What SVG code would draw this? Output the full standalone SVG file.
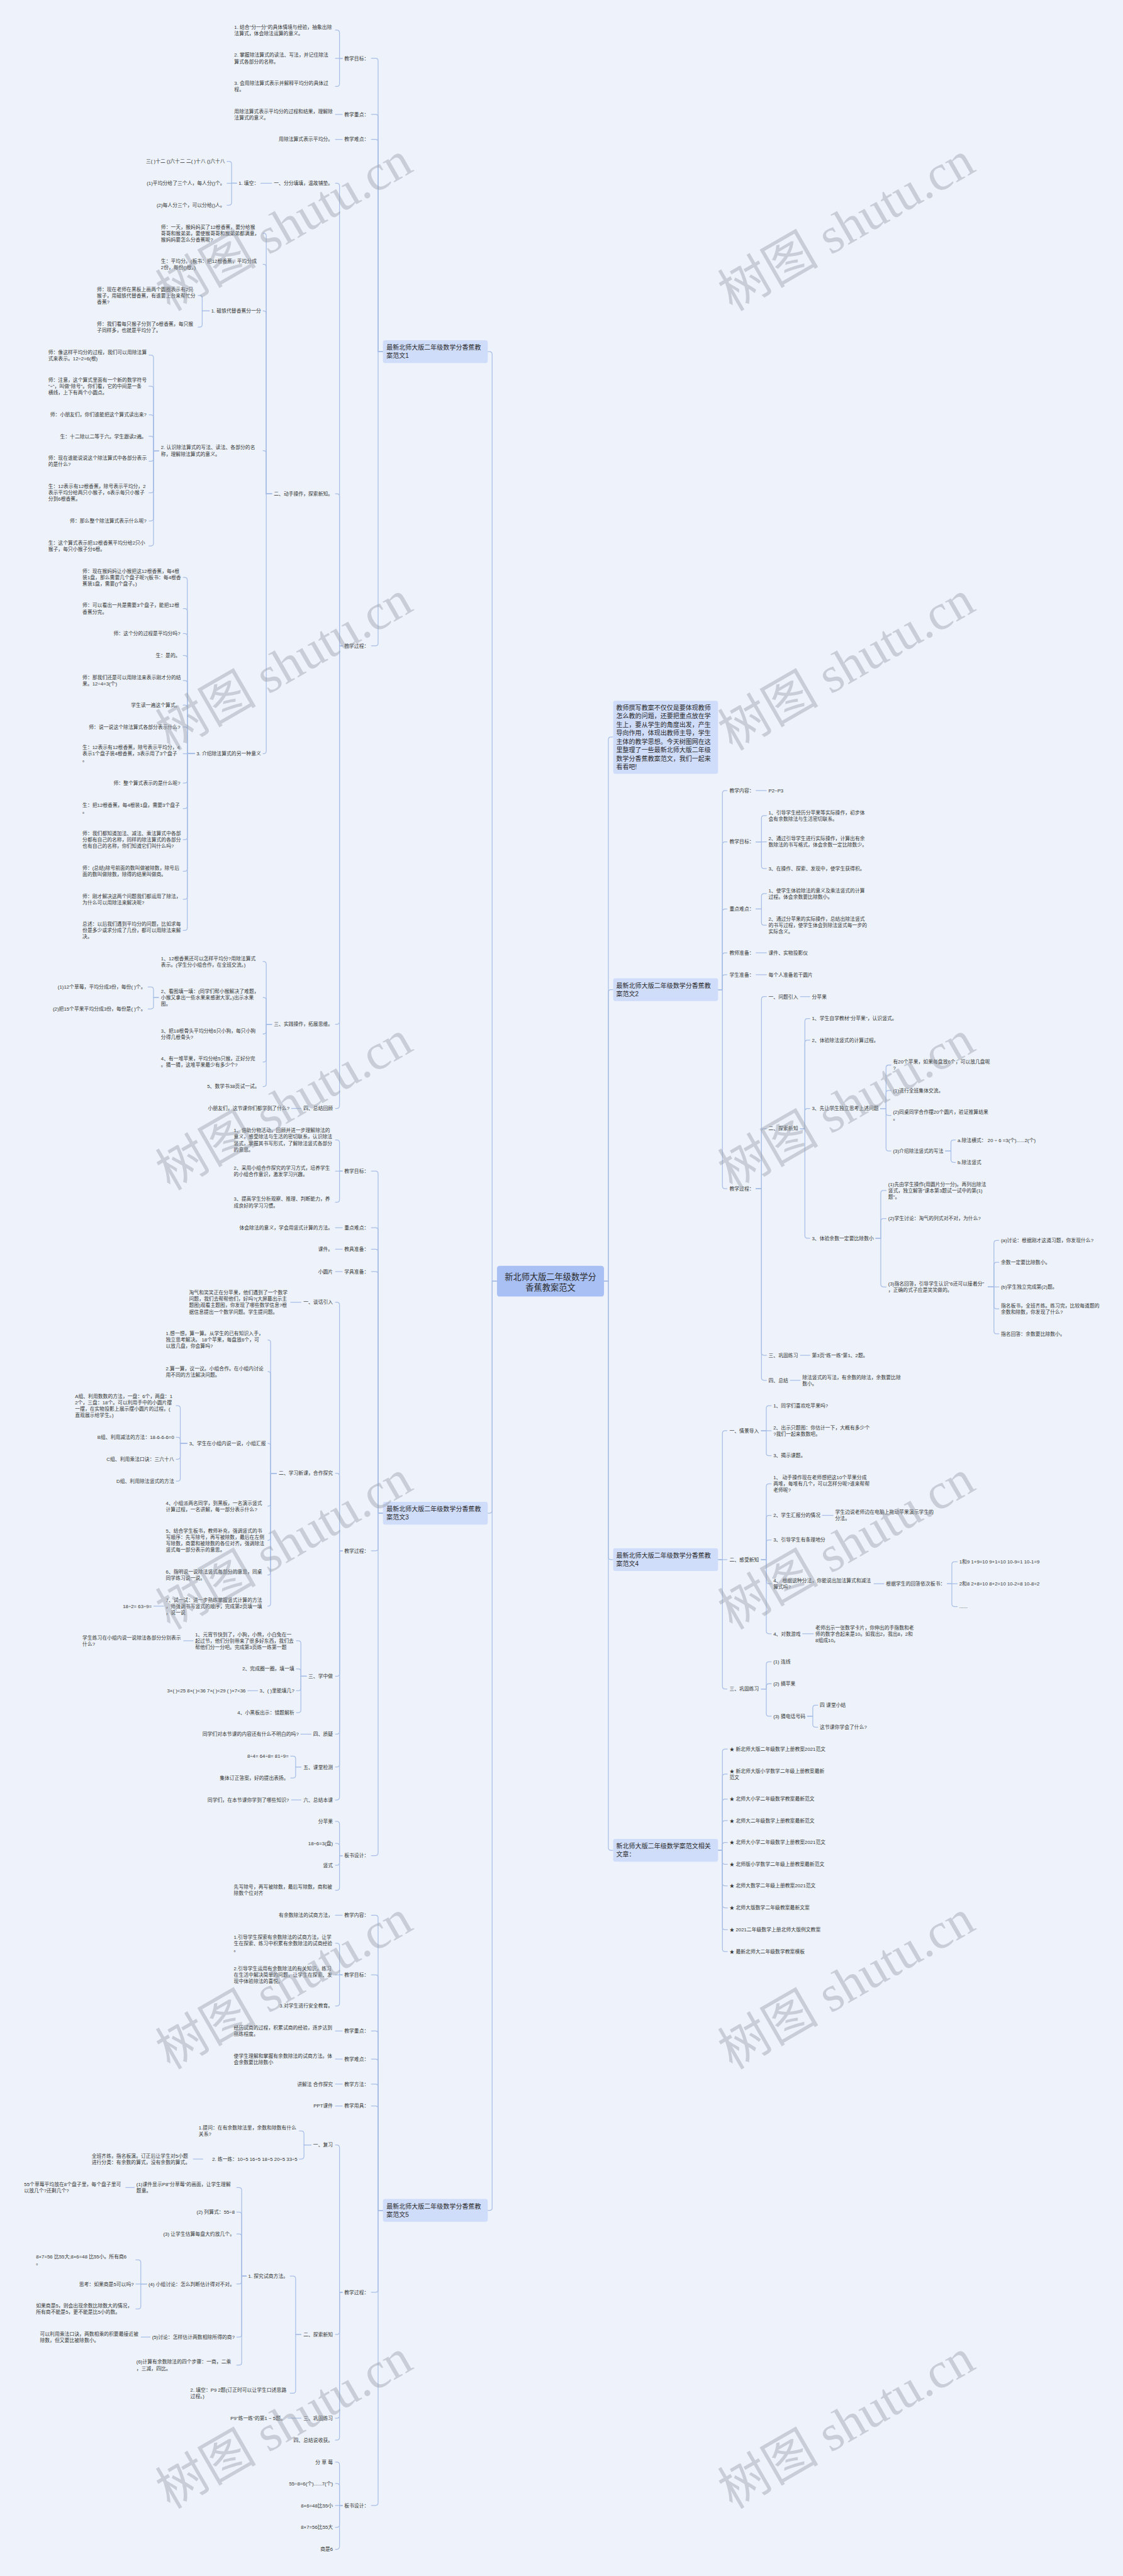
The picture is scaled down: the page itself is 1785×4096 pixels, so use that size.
<svg xmlns="http://www.w3.org/2000/svg" width="1785" height="4096" viewBox="0 0 1785 4096">
<style>
text{font-family:"Liberation Sans","Noto Sans CJK SC",sans-serif;font-size:11.25px;fill:#333}
.e{text-anchor:end}
.bx{font-size:14.4px;fill:#2a2a2a}
.rt{font-size:19px;text-anchor:middle;fill:#2a2a2a}
.c path{fill:none;stroke:#a8bee6;stroke-width:1.8}
.n1{fill:#cfdcfa}
.n0{fill:#a9c0f5}
.wm{font-family:"Liberation Serif","Noto Sans CJK SC",serif;font-size:115px;fill:#9aa0aa;fill-opacity:.45;text-anchor:middle}
</style>
<rect width="1785" height="4096" fill="#eef3fb"/>
<g transform="scale(0.6972)">
<g id="connectors" class="c">
<path d="M1133 2922H1122V808Q1122 802 1116 802H1112"/>
<path d="M1133 2922H1122V3445Q1122 3451 1116 3451H1112"/>
<path d="M1133 2922H1122V5035Q1122 5041 1116 5041H1112"/>
<path d="M1377 2922H1387V1687Q1387 1681 1393 1681H1398"/>
<path d="M1377 2922H1387V2263Q1387 2257 1393 2257H1398"/>
<path d="M1377 2922H1387V3551Q1387 3557 1393 3557H1398"/>
<path d="M1377 2922H1387V4214Q1387 4220 1393 4220H1398"/>
<path d="M873 802H862V139Q862 133 856 133H846"/>
<path d="M873 802H862V267Q862 261 856 261H846"/>
<path d="M873 802H862V324Q862 318 856 318H846"/>
<path d="M873 802H862V1467Q862 1473 856 1473H846"/>
<path d="M781 133H774V74.5Q774 68.5 768 68.5H764"/>
<path d="M781 133H764"/>
<path d="M781 133H774V191Q774 197 768 197H764"/>
<path d="M781 261H764"/>
<path d="M781 318H764"/>
<path d="M781 1473H774V424Q774 418 768 418H764"/>
<path d="M781 1473H774V1132Q774 1126 768 1126H764"/>
<path d="M781 1473H774V2330Q774 2336 768 2336H764"/>
<path d="M781 1473H774V2522Q774 2528 768 2528H764"/>
<path d="M620 418H594"/>
<path d="M540 418H528V374Q528 368 522 368H517"/>
<path d="M540 418H517"/>
<path d="M540 418H528V462Q528 468 522 468H517"/>
<path d="M620 1126H607V538Q607 532 601 532H599"/>
<path d="M620 1126H607V609Q607 603 601 603H599"/>
<path d="M620 1126H607V715Q607 709 601 709H599"/>
<path d="M620 1126H607V1034Q607 1028 601 1028H599"/>
<path d="M620 1126H607V1713Q607 1719 601 1719H599"/>
<path d="M478 709H461V680Q461 674 455 674H451"/>
<path d="M478 709H461V740Q461 746 455 746H451"/>
<path d="M362 1028H350V816Q350 810 344 810H339"/>
<path d="M362 1028H350V887Q350 881 344 881H339"/>
<path d="M362 1028H350V952Q350 946 344 946H339"/>
<path d="M362 1028H350V1001Q350 995 344 995H339"/>
<path d="M362 1028H350V1046Q350 1052 344 1052H339"/>
<path d="M362 1028H350V1118Q350 1124 344 1124H339"/>
<path d="M362 1028H350V1182Q350 1188 344 1188H339"/>
<path d="M362 1028H350V1239Q350 1245 344 1245H339"/>
<path d="M444 1719H427V1323Q427 1317 421 1317H417"/>
<path d="M444 1719H427V1394Q427 1388 421 1388H417"/>
<path d="M444 1719H427V1451Q427 1445 421 1445H417"/>
<path d="M444 1719H427V1501Q427 1495 421 1495H417"/>
<path d="M444 1719H427V1558Q427 1552 421 1552H417"/>
<path d="M444 1719H427V1614Q427 1608 421 1608H417"/>
<path d="M444 1719H427V1664Q427 1658 421 1658H417"/>
<path d="M444 1719H417"/>
<path d="M444 1719H427V1780Q427 1786 421 1786H417"/>
<path d="M444 1719H427V1838Q427 1844 421 1844H417"/>
<path d="M444 1719H427V1909Q427 1915 421 1915H417"/>
<path d="M444 1719H427V1981Q427 1987 421 1987H417"/>
<path d="M444 1719H427V2045Q427 2051 421 2051H417"/>
<path d="M444 1719H427V2116Q427 2122 421 2122H417"/>
<path d="M620 2336H607V2199Q607 2193 601 2193H599"/>
<path d="M620 2336H607V2281Q607 2275 601 2275H599"/>
<path d="M620 2336H607V2352Q607 2358 601 2358H599"/>
<path d="M620 2336H607V2416Q607 2422 601 2422H599"/>
<path d="M620 2336H607V2472Q607 2478 601 2478H599"/>
<path d="M362 2275H350V2257Q350 2251 344 2251H337"/>
<path d="M362 2275H350V2295Q350 2301 344 2301H337"/>
<path d="M687 2528H664"/>
<path d="M873 3451H862V2677Q862 2671 856 2671H846"/>
<path d="M873 3451H862V2806Q862 2800 856 2800H846"/>
<path d="M873 3451H862V2855Q862 2849 856 2849H846"/>
<path d="M873 3451H862V2906Q862 2900 856 2900H846"/>
<path d="M873 3451H862V3531Q862 3537 856 3537H846"/>
<path d="M873 3451H862V4226Q862 4232 856 4232H846"/>
<path d="M781 2671H774V2606Q774 2600 768 2600H764"/>
<path d="M781 2671H764"/>
<path d="M781 2671H774V2736Q774 2742 768 2742H764"/>
<path d="M781 2800H764"/>
<path d="M781 2849H764"/>
<path d="M781 2900H764"/>
<path d="M781 3537H774V2976Q774 2970 768 2970H764"/>
<path d="M781 3537H774V3366Q774 3360 768 3360H764"/>
<path d="M781 3537H774V3817Q774 3823 768 3823H764"/>
<path d="M781 3537H774V3949Q774 3955 768 3955H764"/>
<path d="M781 3537H774V4024Q774 4030 768 4030H764"/>
<path d="M781 3537H774V4099Q774 4105 768 4105H764"/>
<path d="M687 2970H662"/>
<path d="M631 3360H617V3062Q617 3056 611 3056H610"/>
<path d="M631 3360H617V3134Q617 3128 611 3128H610"/>
<path d="M631 3360H617V3298Q617 3292 611 3292H610"/>
<path d="M631 3360H617V3429Q617 3435 611 3435H610"/>
<path d="M631 3360H617V3507Q617 3513 611 3513H610"/>
<path d="M631 3360H617V3586Q617 3592 611 3592H610"/>
<path d="M631 3360H617V3657Q617 3663 611 3663H610"/>
<path d="M427 3292H411V3212Q411 3206 405 3206H401"/>
<path d="M427 3292H411V3284Q411 3278 405 3278H401"/>
<path d="M427 3292H411V3322Q411 3328 405 3328H401"/>
<path d="M427 3292H411V3372Q411 3378 405 3378H401"/>
<path d="M374 3663H350"/>
<path d="M699 3823H686V3748Q686 3742 680 3742H675"/>
<path d="M699 3823H686V3812Q686 3806 680 3806H675"/>
<path d="M699 3823H686V3850Q686 3856 680 3856H675"/>
<path d="M699 3823H686V3900Q686 3906 680 3906H675"/>
<path d="M441 3742H418"/>
<path d="M588 3856H564"/>
<path d="M710 3955H685"/>
<path d="M687 4030H674V4011Q674 4005 668 4005H662"/>
<path d="M687 4030H674V4049Q674 4055 668 4055H662"/>
<path d="M687 4105H664"/>
<path d="M781 4232H774V4160Q774 4154 768 4154H764"/>
<path d="M781 4232H774V4210Q774 4204 768 4204H764"/>
<path d="M781 4232H774V4248Q774 4254 768 4254H764"/>
<path d="M781 4232H774V4305Q774 4311 768 4311H764"/>
<path d="M873 5041H862V4374Q862 4368 856 4368H846"/>
<path d="M873 5041H862V4510Q862 4504 856 4504H846"/>
<path d="M873 5041H862V4638Q862 4632 856 4632H846"/>
<path d="M873 5041H862V4702Q862 4696 856 4696H846"/>
<path d="M873 5041H862V4759Q862 4753 856 4753H846"/>
<path d="M873 5041H862V4809Q862 4803 856 4803H846"/>
<path d="M873 5041H862V5222Q862 5228 856 5228H846"/>
<path d="M873 5041H862V5708Q862 5714 856 5714H846"/>
<path d="M781 4368H764"/>
<path d="M781 4504H774V4438Q774 4432 768 4432H764"/>
<path d="M781 4504H764"/>
<path d="M781 4504H774V4569Q774 4575 768 4575H764"/>
<path d="M781 4632H764"/>
<path d="M781 4696H764"/>
<path d="M781 4753H764"/>
<path d="M781 4803H764"/>
<path d="M781 5228H774V4898Q774 4892 768 4892H764"/>
<path d="M781 5228H774V5318Q774 5324 768 5324H764"/>
<path d="M781 5228H774V5509Q774 5515 768 5515H764"/>
<path d="M781 5228H774V5559Q774 5565 768 5565H764"/>
<path d="M710 4892H693V4866Q693 4860 687 4860H682"/>
<path d="M710 4892H693V4918Q693 4924 687 4924H682"/>
<path d="M463 4924H440"/>
<path d="M687 5324H674V5197Q674 5191 668 5191H661"/>
<path d="M687 5324H674V5452Q674 5458 668 5458H661"/>
<path d="M562 5191H551V4995Q551 4989 545 4989H539"/>
<path d="M562 5191H551V5051Q551 5045 545 5045H539"/>
<path d="M562 5191H551V5101Q551 5095 545 5095H539"/>
<path d="M562 5191H551V5203Q551 5209 545 5209H539"/>
<path d="M562 5191H551V5324Q551 5330 545 5330H539"/>
<path d="M562 5191H551V5388Q551 5394 545 5394H539"/>
<path d="M307 4989H286"/>
<path d="M335 5209H321V5160Q321 5154 315 5154H309"/>
<path d="M335 5209H309"/>
<path d="M335 5209H321V5260Q321 5266 315 5266H309"/>
<path d="M343 5330H321"/>
<path d="M687 5515H656"/>
<path d="M781 5714H774V5621Q774 5615 768 5615H764"/>
<path d="M781 5714H774V5670Q774 5664 768 5664H764"/>
<path d="M781 5714H764"/>
<path d="M781 5714H774V5758Q774 5764 768 5764H764"/>
<path d="M781 5714H774V5808Q774 5814 768 5814H764"/>
<path d="M1637 2257H1647V1809Q1647 1803 1653 1803H1658"/>
<path d="M1637 2257H1647V1926Q1647 1920 1653 1920H1658"/>
<path d="M1637 2257H1647V2079Q1647 2073 1653 2073H1658"/>
<path d="M1637 2257H1647V2179Q1647 2173 1653 2173H1658"/>
<path d="M1637 2257H1647V2229Q1647 2223 1653 2223H1658"/>
<path d="M1637 2257H1647V2705Q1647 2711 1653 2711H1658"/>
<path d="M1723 1803H1748"/>
<path d="M1723 1920H1736V1866Q1736 1860 1742 1860H1748"/>
<path d="M1723 1920H1748"/>
<path d="M1723 1920H1736V1975Q1736 1981 1742 1981H1748"/>
<path d="M1723 2073H1736V2044Q1736 2038 1742 2038H1748"/>
<path d="M1723 2073H1736V2104Q1736 2110 1742 2110H1748"/>
<path d="M1723 2173H1748"/>
<path d="M1723 2223H1748"/>
<path d="M1723 2711H1736V2279Q1736 2273 1742 2273H1748"/>
<path d="M1723 2711H1736V2580Q1736 2574 1742 2574H1748"/>
<path d="M1723 2711H1736V3085Q1736 3091 1742 3091H1748"/>
<path d="M1723 2711H1736V3142Q1736 3148 1742 3148H1748"/>
<path d="M1824 2273H1847"/>
<path d="M1824 2574H1835V2329Q1835 2323 1841 2323H1847"/>
<path d="M1824 2574H1835V2378Q1835 2372 1841 2372H1847"/>
<path d="M1824 2574H1835V2534Q1835 2528 1841 2528H1847"/>
<path d="M1824 2574H1835V2818Q1835 2824 1841 2824H1847"/>
<path d="M2007 2528H2020V2435Q2020 2429 2026 2429H2032"/>
<path d="M2007 2528H2020V2493Q2020 2487 2026 2487H2032"/>
<path d="M2007 2528H2020V2538Q2020 2544 2026 2544H2032"/>
<path d="M2007 2528H2020V2619Q2020 2625 2026 2625H2032"/>
<path d="M2155 2625H2168V2606Q2168 2600 2174 2600H2179"/>
<path d="M2155 2625H2168V2645Q2168 2651 2174 2651H2179"/>
<path d="M1996 2824H2008V2721Q2008 2715 2014 2715H2021"/>
<path d="M1996 2824H2008V2785Q2008 2779 2014 2779H2021"/>
<path d="M1996 2824H2008V2929Q2008 2935 2014 2935H2021"/>
<path d="M2252 2935H2266V2835Q2266 2829 2272 2829H2278"/>
<path d="M2252 2935H2266V2885Q2266 2879 2272 2879H2278"/>
<path d="M2252 2935H2278"/>
<path d="M2252 2935H2266V2979Q2266 2985 2272 2985H2278"/>
<path d="M2252 2935H2266V3036Q2266 3042 2272 3042H2278"/>
<path d="M1824 3091H1847"/>
<path d="M1801 3148H1825"/>
<path d="M1637 3557H1647V3269Q1647 3263 1653 3263H1658"/>
<path d="M1637 3557H1658"/>
<path d="M1637 3557H1647V3846Q1647 3852 1653 3852H1658"/>
<path d="M1735 3263H1747V3212Q1747 3206 1753 3206H1759"/>
<path d="M1735 3263H1759"/>
<path d="M1735 3263H1747V3314Q1747 3320 1753 3320H1759"/>
<path d="M1735 3557H1747V3390Q1747 3384 1753 3384H1759"/>
<path d="M1735 3557H1747V3462Q1747 3456 1753 3456H1759"/>
<path d="M1735 3557H1747V3518Q1747 3512 1753 3512H1759"/>
<path d="M1735 3557H1747V3606Q1747 3612 1753 3612H1759"/>
<path d="M1735 3557H1747V3720Q1747 3726 1753 3726H1759"/>
<path d="M1874 3456H1900"/>
<path d="M1992 3612H2016"/>
<path d="M2159 3612H2170V3568Q2170 3562 2176 3562H2183"/>
<path d="M2159 3612H2183"/>
<path d="M2159 3612H2170V3658Q2170 3664 2176 3664H2183"/>
<path d="M1829 3726H1855"/>
<path d="M1735 3852H1747V3796Q1747 3790 1753 3790H1759"/>
<path d="M1735 3852H1747V3846Q1747 3840 1753 3840H1759"/>
<path d="M1735 3852H1747V3908Q1747 3914 1753 3914H1759"/>
<path d="M1840 3914H1853V3895Q1853 3889 1859 3889H1865"/>
<path d="M1840 3914H1853V3933Q1853 3939 1859 3939H1865"/>
<path d="M1637 4220H1647V3995Q1647 3989 1653 3989H1659"/>
<path d="M1637 4220H1647V4052Q1647 4046 1653 4046H1659"/>
<path d="M1637 4220H1647V4109Q1647 4103 1653 4103H1659"/>
<path d="M1637 4220H1647V4158Q1647 4152 1653 4152H1659"/>
<path d="M1637 4220H1647V4208Q1647 4202 1653 4202H1659"/>
<path d="M1637 4220H1647V4246Q1647 4252 1653 4252H1659"/>
<path d="M1637 4220H1647V4295Q1647 4301 1653 4301H1659"/>
<path d="M1637 4220H1647V4345Q1647 4351 1653 4351H1659"/>
<path d="M1637 4220H1647V4395Q1647 4401 1653 4401H1659"/>
<path d="M1637 4220H1647V4445Q1647 4451 1653 4451H1659"/>
</g>

<g id="root"><rect class="n0" x="1133" y="2887" width="244" height="70" rx="6"/><text class="rt" x="1255" y="2918.5">新北师大版二年级数学分<tspan x="1255" dy="25">香蕉教案范文</tspan></text></g>

<g id="intro"><rect class="n1" x="1398" y="1598" width="239" height="167" rx="5"/><text class="bx" x="1405" y="1619">教师撰写教案不仅仅是要体现教师<tspan x="1405" dy="19.3">怎么教的问题，还要把重点放在学</tspan><tspan x="1405" dy="19.3">生上，要从学生的角度出发，产生</tspan><tspan x="1405" dy="19.3">导向作用，体现出教师主导，学生</tspan><tspan x="1405" dy="19.3">主体的教学思想。今天树图网在这</tspan><tspan x="1405" dy="19.3">里整理了一些最新北师大版二年级</tspan><tspan x="1405" dy="19.3">数学分香蕉教案范文，我们一起来</tspan><tspan x="1405" dy="19.3">看看吧!</tspan></text></g>

<!-- 范文1 -->
<g id="fw1"><rect class="n1" x="873" y="776" width="239" height="52" rx="5"/><text class="bx" x="881" y="797.8">最新北师大版二年级数学分香蕉教<tspan x="881" dy="18.5">案范文1</tspan></text></g>
<g id="a-mb"><text class="e" x="841" y="137">教学目标：</text></g>
<g id="a-mb1"><text x="534" y="65.3">1. 结合"分一分"的具体情境与经验，抽象出除<tspan x="534" dy="14.4">法算式，体会除法运算的意义。</tspan></text></g>
<g id="a-mb2"><text x="534" y="129.8">2. 掌握除法算式的读法、写法，并记住除法<tspan x="534" dy="14.4">算式各部分的名称。</tspan></text></g>
<g id="a-mb3"><text x="534" y="193.8">3. 会用除法算式表示并解释平均分的具体过<tspan x="534" dy="14.4">程。</tspan></text></g>
<g id="a-zd"><text class="e" x="841" y="265">教学重点：</text></g>
<g id="a-zd1"><text x="534" y="257.8">用除法算式表示平均分的过程和结果，理解除<tspan x="534" dy="14.4">法算式的意义。</tspan></text></g>
<g id="a-nd"><text class="e" x="841" y="322">教学难点：</text></g>
<g id="a-nd1"><text class="e" x="759" y="322">用除法算式表示平均分。</text></g>
<g id="a-gc"><text class="e" x="841" y="1477">教学过程：</text></g>
<g id="a-1"><text class="e" x="759" y="422">一、分分填填，温故铺垫。</text></g>
<g id="a-1a"><text class="e" x="590" y="422">1. 填空：</text></g>
<g id="a-1a1"><text class="e" x="513" y="372">三( )十二 ()六十二 二( )十八 ()六十八</text></g>
<g id="a-1a2"><text class="e" x="513" y="422">(1)平均分给了三个人，每人分()个。</text></g>
<g id="a-1a3"><text class="e" x="513" y="472">(2)每人分三个，可以分给()人。</text></g>
<g id="a-2"><text class="e" x="759" y="1130">二、动手操作，探索新知。</text></g>
<g id="a-2a"><text x="367" y="521.6">师：一天，猴妈妈买了12根香蕉，要分给猴<tspan x="367" dy="14.4">哥哥和猴弟弟，要使猴哥哥和猴弟弟都满意，</tspan><tspan x="367" dy="14.4">猴妈妈要怎么分香蕉呢?</tspan></text></g>
<g id="a-2b"><text x="367" y="599.8">生：平均分。(板书：把12根香蕉，平均分成<tspan x="367" dy="14.4">2份，每份()根。)</tspan></text></g>
<g id="a-2c"><text class="e" x="595" y="713">1. 磁铁代替香蕉分一分</text></g>
<g id="a-2c1"><text x="221" y="663.6">师：现在老师在黑板上画两个圆圈表示有2只<tspan x="221" dy="14.4">猴子，用磁铁代替香蕉，有谁要上台来帮忙分</tspan><tspan x="221" dy="14.4">香蕉?</tspan></text></g>
<g id="a-2c2"><text x="221" y="742.8">师：我们看每只猴子分到了6根香蕉，每只猴<tspan x="221" dy="14.4">子同样多，也就是平均分了。</tspan></text></g>
<g id="a-2d"><text x="367" y="1024.8">2. 认识除法算式的写法、读法、各部分的名<tspan x="367" dy="14.4">称，理解除法算式的意义。</tspan></text></g>
<g id="a-2d1"><text x="110" y="806.8">师：像这样平均分的过程，我们可以用除法算<tspan x="110" dy="14.4">式来表示。12÷2=6(根)</tspan></text></g>
<g id="a-2d2"><text x="110" y="870.6">师：注意，这个算式里面有一个新的数学符号<tspan x="110" dy="14.4">"÷"，叫做"除号"。你们看，它的中间是一条</tspan><tspan x="110" dy="14.4">横线，上下有两个小圆点。</tspan></text></g>
<g id="a-2d3"><text class="e" x="334" y="950">师：小朋友们，你们谁能把这个算式读出来?</text></g>
<g id="a-2d4"><text class="e" x="334" y="999">生：十二除以二等于六。学生跟读2遍。</text></g>
<g id="a-2d5"><text x="110" y="1048.8">师：现在谁能说说这个除法算式中各部分表示<tspan x="110" dy="14.4">的是什么?</tspan></text></g>
<g id="a-2d6"><text x="110" y="1113.6">生：12表示有12根香蕉，除号表示平均分，2<tspan x="110" dy="14.4">表示平均分给两只小猴子，6表示每只小猴子</tspan><tspan x="110" dy="14.4">分到6根香蕉。</tspan></text></g>
<g id="a-2d7"><text class="e" x="334" y="1192">师：那么整个除法算式表示什么呢?</text></g>
<g id="a-2d8"><text x="110" y="1241.8">生：这个算式表示把12根香蕉平均分给2只小<tspan x="110" dy="14.4">猴子，每只小猴子分6根。</tspan></text></g>
<g id="a-2e"><text class="e" x="595" y="1723">3. 介绍除法算式的另一种意义</text></g>
<g id="a-2e1"><text x="188" y="1306.6">师：现在猴妈妈让小猴把这12根香蕉，每4根<tspan x="188" dy="14.4">装1盘，那么需要几个盘子呢?(板书：每4根香</tspan><tspan x="188" dy="14.4">蕉装1盘，需要()个盘子。)</tspan></text></g>
<g id="a-2e2"><text x="188" y="1384.8">师：可以看出一共是需要3个盘子，能把12根<tspan x="188" dy="14.4">香蕉分完。</tspan></text></g>
<g id="a-2e3"><text class="e" x="411" y="1449">师：这个分的过程是平均分吗?</text></g>
<g id="a-2e4"><text class="e" x="411" y="1499">生：是的。</text></g>
<g id="a-2e5"><text x="188" y="1548.8">师：那我们还是可以用除法来表示刚才分的结<tspan x="188" dy="14.4">果。12÷4=3(个)</tspan></text></g>
<g id="a-2e6"><text class="e" x="411" y="1612">学生读一遍这个算式。</text></g>
<g id="a-2e7"><text class="e" x="411" y="1662">师：说一说这个除法算式各部分表示什么?</text></g>
<g id="a-2e8"><text x="188" y="1708.6">生：12表示有12根香蕉，除号表示平均分，4<tspan x="188" dy="14.4">表示1个盘子装4根香蕉，3表示用了3个盘子</tspan><tspan x="188" dy="14.4">。</tspan></text></g>
<g id="a-2e9"><text class="e" x="411" y="1790">师：整个算式表示的是什么呢?</text></g>
<g id="a-2e10"><text x="188" y="1840.8">生：把12根香蕉，每4根装1盘，需要3个盘子<tspan x="188" dy="14.4">。</tspan></text></g>
<g id="a-2e11"><text x="188" y="1904.6">师：我们都知道加法、减法、乘法算式中各部<tspan x="188" dy="14.4">分都有自己的名称，同样的除法算式的各部分</tspan><tspan x="188" dy="14.4">也有自己的名称，你们知道它们叫什么吗?</tspan></text></g>
<g id="a-2e12"><text x="188" y="1983.8">师：(总结)除号前面的数叫做被除数，除号后<tspan x="188" dy="14.4">面的数叫做除数，除得的结果叫做商。</tspan></text></g>
<g id="a-2e13"><text x="188" y="2047.8">师：刚才解决这两个问题我们都运用了除法，<tspan x="188" dy="14.4">为什么可以用除法来解决呢?</tspan></text></g>
<g id="a-2e14"><text x="188" y="2111.6">总述：以后我们遇到平均分的问题，比如求每<tspan x="188" dy="14.4">份是多少或求分成了几份，都可以用除法来解</tspan><tspan x="188" dy="14.4">决。</tspan></text></g>
<g id="a-3"><text class="e" x="759" y="2340">三、实践操作，拓展思维。</text></g>
<g id="a-3a"><text x="367" y="2189.8">1、12根香蕉还可以怎样平均分?用除法算式<tspan x="367" dy="14.4">表示。(学生分小组合作，在全班交流。)</tspan></text></g>
<g id="a-3b"><text x="367" y="2264.6">2、看图填一填：(同学们帮小猴解决了难题，<tspan x="367" dy="14.4">小猴又拿出一些水果来感谢大家。)出示水果</tspan><tspan x="367" dy="14.4">图。</tspan></text></g>
<g id="a-3b1"><text class="e" x="332" y="2255">(1)12个草莓，平均分成3份，每份( )个。</text></g>
<g id="a-3b2"><text class="e" x="332" y="2305">(2)把15个苹果平均分成3份，每份是( )个。</text></g>
<g id="a-3c"><text x="367" y="2354.8">3、把18根骨头平均分给6只小狗，每只小狗<tspan x="367" dy="14.4">分得几根骨头?</tspan></text></g>
<g id="a-3d"><text x="367" y="2418.8">4、有一堆苹果，平均分给5只猴，正好分完<tspan x="367" dy="14.4">。猜一猜，这堆苹果最少有多少个?</tspan></text></g>
<g id="a-3e"><text class="e" x="592" y="2482">5、数学书38页试一试。</text></g>
<g id="a-4"><text class="e" x="759" y="2532">四、总结回顾</text></g>
<g id="a-4a"><text class="e" x="660" y="2532">小朋友们，这节课你们都学到了什么?</text></g>

<!-- 范文3 -->
<g id="fw3"><rect class="n1" x="873" y="3425" width="239" height="52" rx="5"/><text class="bx" x="881" y="3446.8">最新北师大版二年级数学分香蕉教<tspan x="881" dy="18.5">案范文3</tspan></text></g>
<g id="b-mb"><text class="e" x="841" y="2675">教学目标：</text></g>
<g id="b-mb1"><text x="533" y="2582.4">1、借助分物活动，回顾并进一步理解除法的<tspan x="533" dy="14.4">意义，感受除法与生活的密切联系，认识除法</tspan><tspan x="533" dy="14.4">竖式，掌握其书写形式，了解除法竖式各部分</tspan><tspan x="533" dy="14.4">的意思。</tspan></text></g>
<g id="b-mb2"><text x="533" y="2667.8">2、采用小组合作探究的学习方式，培养学生<tspan x="533" dy="14.4">的小组合作意识，激发学习兴趣。</tspan></text></g>
<g id="b-mb3"><text x="533" y="2738.8">3、提高学生分析观察、推理、判断能力，养<tspan x="533" dy="14.4">成良好的学习习惯。</tspan></text></g>
<g id="b-zd"><text class="e" x="841" y="2804">重点难点：</text></g>
<g id="b-zd1"><text class="e" x="759" y="2804">体会除法的意义，学会用竖式计算的方法。</text></g>
<g id="b-jj"><text class="e" x="841" y="2853">教具准备：</text></g>
<g id="b-jj1"><text class="e" x="759" y="2853">课件。</text></g>
<g id="b-xj"><text class="e" x="841" y="2904">学具准备：</text></g>
<g id="b-xj1"><text class="e" x="759" y="2904">小圆片</text></g>
<g id="b-gc"><text class="e" x="841" y="3541">教学过程：</text></g>
<g id="b-1"><text class="e" x="759" y="2974">一、谈话引入</text></g>
<g id="b-1a"><text x="431" y="2952.4">淘气和笑笑正在分苹果，他们遇到了一个数学<tspan x="431" dy="14.4">问题，我们去帮帮他们，好吗?(大屏幕出示主</tspan><tspan x="431" dy="14.4">题图)观看主题图，你发现了哪些数学信息?根</tspan><tspan x="431" dy="14.4">据信息提出一个数学问题。学生提问题。</tspan></text></g>
<g id="b-2"><text class="e" x="759" y="3364">二、学习新课，合作探究</text></g>
<g id="b-2a"><text x="378" y="3045.6">1.想一想，算一算。从学生的已有知识入手，<tspan x="378" dy="14.4">独立思考解决。 18个苹果，每盘放6个，可</tspan><tspan x="378" dy="14.4">以放几盘，你会算吗?</tspan></text></g>
<g id="b-2b"><text x="378" y="3124.8">2.算一算，议一议。小组合作。在小组内讨论<tspan x="378" dy="14.4">用不同的方法解决问题。</tspan></text></g>
<g id="b-2c"><text class="e" x="606" y="3296">3、学生在小组内说一说，小组汇报</text></g>
<g id="b-2c1"><text x="171" y="3188.4">A组、利用数数的方法，一盘：6个，两盘：1<tspan x="171" dy="14.4">2个，三盘：18个。可以利用手中的小圆片摆</tspan><tspan x="171" dy="14.4">一摆，在实物投影上展示摆小圆片的过程。(</tspan><tspan x="171" dy="14.4">直观展示给学生。)</tspan></text></g>
<g id="b-2c2"><text class="e" x="397" y="3282">B组、利用减法的方法：18-6-6-6=0</text></g>
<g id="b-2c3"><text class="e" x="397" y="3332">C组、利用乘法口诀：三六十八</text></g>
<g id="b-2c4"><text class="e" x="397" y="3382">D组、利用除法竖式的方法</text></g>
<g id="b-2d"><text x="378" y="3431.8">4、小组派两名同学，到黑板，一名演示竖式<tspan x="378" dy="14.4">计算过程，一名讲解，每一部分表示什么?</tspan></text></g>
<g id="b-2e"><text x="378" y="3495.4">5、结合学生板书，教师补充，强调竖式的书<tspan x="378" dy="14.4">写顺序：先写除号，再写被除数，最后在左侧</tspan><tspan x="378" dy="14.4">写除数，商要和被除数的各位对齐。强调除法</tspan><tspan x="378" dy="14.4">竖式每一部分表示的意思。</tspan></text></g>
<g id="b-2f"><text x="378" y="3588.8">6、指明说一说除法竖式每部分的意思，同桌<tspan x="378" dy="14.4">同学练习说一说。</tspan></text></g>
<g id="b-2g"><text x="378" y="3652.6">7、试一试：进一步熟练掌握竖式计算的方法<tspan x="378" dy="14.4">，师强调书写竖式的顺序，完成第2页填一填</tspan><tspan x="378" dy="14.4">，说一说</tspan></text></g>
<g id="b-2g1"><text class="e" x="346" y="3667">18÷2= 63÷9=</text></g>
<g id="b-3"><text class="e" x="759" y="3827">三、学中做</text></g>
<g id="b-3a"><text x="445" y="3731.6">1、元宵节快到了，小狗，小熊，小白兔在一<tspan x="445" dy="14.4">起过节，他们分别带来了很多好东西，我们去</tspan><tspan x="445" dy="14.4">帮他们分一分吧。完成第3页练一练第一题</tspan></text></g>
<g id="b-3a1"><text x="188" y="3738.8">学生练习在小组内说一说除法各部分分别表示<tspan x="188" dy="14.4">什么?</tspan></text></g>
<g id="b-3b"><text class="e" x="671" y="3810">2、完成圈一圈，填一填</text></g>
<g id="b-3c"><text class="e" x="671" y="3860">3、( )里能填几?</text></g>
<g id="b-3c1"><text class="e" x="560" y="3860">3×( )&lt;25 8×( )&lt;36 7×( )&lt;29 ( )×7&lt;36</text></g>
<g id="b-3d"><text class="e" x="671" y="3910">4、小黑板出示：错题解析</text></g>
<g id="b-4"><text class="e" x="759" y="3959">四、质疑</text></g>
<g id="b-4a"><text class="e" x="681" y="3959">同学们对本节课的内容还有什么不明白的吗?</text></g>
<g id="b-5"><text class="e" x="759" y="4034">五、课堂检测</text></g>
<g id="b-5a"><text class="e" x="658" y="4009">8÷4= 64÷8= 81÷9=</text></g>
<g id="b-5b"><text class="e" x="658" y="4059">集体订正答案，好的提出表扬。</text></g>
<g id="b-6"><text class="e" x="759" y="4109">六、总结本课</text></g>
<g id="b-6a"><text class="e" x="659" y="4109">同学们，在本节课你学到了哪些知识?</text></g>
<g id="b-bs"><text class="e" x="841" y="4236">板书设计：</text></g>
<g id="b-bs1"><text class="e" x="759" y="4158">分苹果</text></g>
<g id="b-bs2"><text class="e" x="759" y="4208">18÷6=3(盘)</text></g>
<g id="b-bs3"><text class="e" x="759" y="4258">竖式</text></g>
<g id="b-bs4"><text x="533" y="4307.8">先写除号，再写被除数，最后写除数，商和被<tspan x="533" dy="14.4">除数个位对齐</tspan></text></g>

<!-- 范文5 -->
<g id="fw5"><rect class="n1" x="873" y="5015" width="239" height="52" rx="5"/><text class="bx" x="881" y="5036.8">最新北师大版二年级数学分香蕉教<tspan x="881" dy="18.5">案范文5</tspan></text></g>
<g id="c-nr"><text class="e" x="841" y="4372">教学内容：</text></g>
<g id="c-nr1"><text class="e" x="759" y="4372">有余数除法的试商方法，</text></g>
<g id="c-mb"><text class="e" x="841" y="4508">教学目标：</text></g>
<g id="c-mb1"><text x="533" y="4421.6">1.引导学生探索有余数除法的试商方法，让学<tspan x="533" dy="14.4">生在探索、练习中积累有余数除法的试商经验</tspan><tspan x="533" dy="14.4">。</tspan></text></g>
<g id="c-mb2"><text x="533" y="4493.6">2.引导学生运用有余数除法的有关知识，练习<tspan x="533" dy="14.4">在生活中解决简单的问题，让学生在探索、发</tspan><tspan x="533" dy="14.4">现中体验除法的喜悦。</tspan></text></g>
<g id="c-mb3"><text class="e" x="759" y="4579">3.对学生进行安全教育。</text></g>
<g id="c-zd"><text class="e" x="841" y="4636">教学重点：</text></g>
<g id="c-zd1"><text x="533" y="4628.8">经历试商的过程，积累试商的经验，逐步达到<tspan x="533" dy="14.4">熟练程度。</tspan></text></g>
<g id="c-nd"><text class="e" x="841" y="4700">教学难点：</text></g>
<g id="c-nd1"><text x="533" y="4692.8">使学生理解和掌握有余数除法的试商方法。体<tspan x="533" dy="14.4">会余数要比除数小</tspan></text></g>
<g id="c-ff"><text class="e" x="841" y="4757">教学方法：</text></g>
<g id="c-ff1"><text class="e" x="759" y="4757">讲解法 合作探究</text></g>
<g id="c-yj"><text class="e" x="841" y="4807">教学用具：</text></g>
<g id="c-yj1"><text class="e" x="759" y="4807">PPT课件</text></g>
<g id="c-gc"><text class="e" x="841" y="5232">教学过程：</text></g>
<g id="c-1"><text class="e" x="759" y="4896">一、复习</text></g>
<g id="c-1a"><text x="453" y="4856.8">1.提问：在有余数除法里，余数和除数有什么<tspan x="453" dy="14.4">关系?</tspan></text></g>
<g id="c-1b"><text class="e" x="678" y="4928">2. 练一练：10÷5 16÷5 18÷5 20÷5 33÷5</text></g>
<g id="c-1b1"><text x="209" y="4920.8">全班齐练，指名板演。订正后让学生对5小题<tspan x="209" dy="14.4">进行分类：有余数的算式，没有余数的算式。</tspan></text></g>
<g id="c-2"><text class="e" x="759" y="5328">二、探索新知</text></g>
<g id="c-2a"><text class="e" x="657" y="5195">1. 探究试商方法。</text></g>
<g id="c-2a1"><text x="311" y="4985.8">(1)课件显示P8"分草莓"的画面，让学生理解<tspan x="311" dy="14.4">题意。</tspan></text></g>
<g id="c-2a1a"><text x="55" y="4985.8">55个草莓平均放在8个盘子里，每个盘子里可<tspan x="55" dy="14.4">以放几个?还剩几个?</tspan></text></g>
<g id="c-2a2"><text class="e" x="535" y="5049">(2) 列算式：55÷8</text></g>
<g id="c-2a3"><text class="e" x="535" y="5099">(3) 让学生估算每盘大约放几个。</text></g>
<g id="c-2a4"><text class="e" x="535" y="5213">(4) 小组讨论：怎么判断估计得对不对。</text></g>
<g id="c-2a4a"><text x="82" y="5150.8">8×7=56 比55大;8×6=48 比55小。所有商6<tspan x="82" dy="14.4">。</tspan></text></g>
<g id="c-2a4b"><text class="e" x="305" y="5213">思考：如果商是5可以吗?</text></g>
<g id="c-2a4c"><text x="82" y="5262.8">如果商是5，则会出现余数比除数大的情况，<tspan x="82" dy="14.4">所有商不能是5，更不能是比5小的数。</tspan></text></g>
<g id="c-2a5"><text class="e" x="535" y="5334">(5)讨论：怎样估计两数相除所得的商?</text></g>
<g id="c-2a5a"><text x="91" y="5326.8">可以利用乘法口诀，两数相乘的积要最接近被<tspan x="91" dy="14.4">除数，但又要比被除数小。</tspan></text></g>
<g id="c-2a6"><text x="311" y="5390.8">(6)计算有余数除法的四个步骤：一商，二乘<tspan x="311" dy="14.4">，三减，四比。</tspan></text></g>
<g id="c-2b"><text x="434" y="5454.8">2. 填空：P9 2题(订正时可以让学生口述思路<tspan x="434" dy="14.4">过程。)</tspan></text></g>
<g id="c-3"><text class="e" x="759" y="5519">三、巩固练习</text></g>
<g id="c-3a"><text class="e" x="651" y="5519">P9"练一练"的第1 ~ 5题。</text></g>
<g id="c-4"><text class="e" x="759" y="5569">四、总结说收获。</text></g>
<g id="c-bs"><text class="e" x="841" y="5718">板书设计：</text></g>
<g id="c-bs1"><text class="e" x="759" y="5619">分 草 莓</text></g>
<g id="c-bs2"><text class="e" x="759" y="5668">55÷8=6(个)......7(个)</text></g>
<g id="c-bs3"><text class="e" x="759" y="5718">8×6=48比55小</text></g>
<g id="c-bs4"><text class="e" x="759" y="5768">8×7=56比55大</text></g>
<g id="c-bs5"><text class="e" x="759" y="5818">商是6</text></g>

<!-- 范文2 -->
<g id="fw2"><rect class="n1" x="1398" y="2231" width="239" height="52" rx="5"/><text class="bx" x="1405" y="2252.8">最新北师大版二年级数学分香蕉教<tspan x="1405" dy="18.5">案范文2</tspan></text></g>
<g id="d-nr"><text x="1663" y="1807">教学内容：</text></g>
<g id="d-nr1"><text x="1752" y="1807">P2~P3</text></g>
<g id="d-mb"><text x="1663" y="1924">教学目标：</text></g>
<g id="d-mb1"><text x="1752" y="1856.8">1、引导学生经历分苹果等实际操作，初步体<tspan x="1752" dy="14.4">会有余数除法与生活密切联系。</tspan></text></g>
<g id="d-mb2"><text x="1752" y="1916.8">2、通过引导学生进行实际操作，计算出有余<tspan x="1752" dy="14.4">数除法的书写格式，体会余数一定比除数少。</tspan></text></g>
<g id="d-mb3"><text x="1752" y="1985">3、在操作、探索、发现中，使学生获得积。</text></g>
<g id="d-zd"><text x="1663" y="2077">重点难点：</text></g>
<g id="d-zd1"><text x="1752" y="2034.8">1、使学生体验除法的意义及乘法竖式的计算<tspan x="1752" dy="14.4">过程。体会余数要比除数小。</tspan></text></g>
<g id="d-zd2"><text x="1752" y="2099.6">2、通过分苹果的实际操作，总结出除法竖式<tspan x="1752" dy="14.4">的书写过程，使学生体会到除法竖式每一步的</tspan><tspan x="1752" dy="14.4">实际含义。</tspan></text></g>
<g id="d-js"><text x="1663" y="2177">教师准备：</text></g>
<g id="d-js1"><text x="1752" y="2177">课件、实物投影仪</text></g>
<g id="d-xs"><text x="1663" y="2227">学生准备：</text></g>
<g id="d-xs1"><text x="1752" y="2227">每个人准备若干圆片</text></g>
<g id="d-gc"><text x="1663" y="2715">教学过程：</text></g>
<g id="d-1"><text x="1752" y="2277">一、问题引入</text></g>
<g id="d-1a"><text x="1851" y="2277">分苹果</text></g>
<g id="d-2"><text x="1752" y="2578">二、探索新知</text></g>
<g id="d-2a"><text x="1851" y="2327">1、学生自学教材"分苹果"，认识竖式。</text></g>
<g id="d-2b"><text x="1851" y="2376">2、体验除法竖式的计算过程。</text></g>
<g id="d-2c"><text x="1851" y="2532">3、先让学生独立思考上述问题</text></g>
<g id="d-2c1"><text x="2036" y="2425.8">有20个苹果，如果每盘放6个，可以放几盘呢<tspan x="2036" dy="14.4">?</tspan></text></g>
<g id="d-2c2"><text x="2036" y="2491">(1)进行全班集体交流。</text></g>
<g id="d-2c3"><text x="2036" y="2540.8">(2)同桌同学合作摆20个圆片，验证推算结果<tspan x="2036" dy="14.4">。</tspan></text></g>
<g id="d-2c4"><text x="2036" y="2629">(3)介绍除法竖式的写法</text></g>
<g id="d-2c4a"><text x="2183" y="2604">a.除法横式： 20 ÷ 6 =3(个)......2(个)</text></g>
<g id="d-2c4b"><text x="2183" y="2655">b.除法竖式</text></g>
<g id="d-2d"><text x="1851" y="2828">3、体验余数一定要比除数小</text></g>
<g id="d-2d1"><text x="2025" y="2704.6">(1)先由学生操作(用圆片分一分)。再列出除法<tspan x="2025" dy="14.4">竖式，独立解答"课本第3题试一试中的第(1)</tspan><tspan x="2025" dy="14.4">题"。</tspan></text></g>
<g id="d-2d2"><text x="2025" y="2783">(2)学生讨论：淘气的列式对不对，为什么?</text></g>
<g id="d-2d3"><text x="2025" y="2931.8">(3)指名回答，引导学生认识"6还可以接着分"<tspan x="2025" dy="14.4">，正确的式子应是笑笑做的。</tspan></text></g>
<g id="d-2d3a"><text x="2282" y="2833">(a)讨论：根据刚才这道习题，你发现什么?</text></g>
<g id="d-2d3b"><text x="2282" y="2883">余数一定要比除数小。</text></g>
<g id="d-2d3c"><text x="2282" y="2939">(b)学生独立完成第(2)题。</text></g>
<g id="d-2d3d"><text x="2282" y="2981.8">指名板书，全班齐练。练习完，比较每道题的<tspan x="2282" dy="14.4">余数和除数，你发现了什么?</tspan></text></g>
<g id="d-2d3e"><text x="2282" y="3046">指名回答：余数要比除数小。</text></g>
<g id="d-3"><text x="1752" y="3095">三、巩固练习</text></g>
<g id="d-3a"><text x="1851" y="3095">第3页"练一练"第1、2题。</text></g>
<g id="d-4"><text x="1752" y="3152">四、总结</text></g>
<g id="d-4a"><text x="1829" y="3144.8">除法竖式的写法，有余数的除法，余数要比除<tspan x="1829" dy="14.4">数小。</tspan></text></g>

<!-- 范文4 -->
<g id="fw4"><rect class="n1" x="1398" y="3531" width="239" height="52" rx="5"/><text class="bx" x="1405" y="3552.8">最新北师大版二年级数学分香蕉教<tspan x="1405" dy="18.5">案范文4</tspan></text></g>
<g id="e-1"><text x="1663" y="3267">一、情景导入</text></g>
<g id="e-1a"><text x="1763" y="3210">1、同学们喜欢吃苹果吗?</text></g>
<g id="e-1b"><text x="1763" y="3259.8">2、出示只题图：你估计一下，大概有多少个<tspan x="1763" dy="14.4">?我们一起来数数吧。</tspan></text></g>
<g id="e-1c"><text x="1763" y="3324">3、揭示课题。</text></g>
<g id="e-2"><text x="1663" y="3561">二、感受新知</text></g>
<g id="e-2a"><text x="1763" y="3373.6">1、 动手操作现在老师想把这10个苹果分成<tspan x="1763" dy="14.4">两堆，每堆有几个，可以怎样分呢?谁来帮帮</tspan><tspan x="1763" dy="14.4">老师呢?</tspan></text></g>
<g id="e-2b"><text x="1763" y="3460">2、学生汇报分的情况</text></g>
<g id="e-2b1"><text x="1904" y="3452.8">学生边说老师边在电脑上拖动苹果演示学生的<tspan x="1904" dy="14.4">分法。</tspan></text></g>
<g id="e-2c"><text x="1763" y="3516">3、引导学生有条理地分</text></g>
<g id="e-2d"><text x="1763" y="3608.8">4、 根据这种分法，你能说出加法算式和减法<tspan x="1763" dy="14.4">算式吗?</tspan></text></g>
<g id="e-2d1"><text x="2020" y="3616">根据学生的回答依次板书：</text></g>
<g id="e-2d1a"><text x="2187" y="3566">1和9 1+9=10 9+1=10 10-9=1 10-1=9</text></g>
<g id="e-2d1b"><text x="2187" y="3616">2和8 2+8=10 8+2=10 10-2=8 10-8=2</text></g>
<g id="e-2d1c"><text x="2187" y="3668">......</text></g>
<g id="e-2e"><text x="1763" y="3730">4、对数游戏</text></g>
<g id="e-2e1"><text x="1859" y="3715.6">老师出示一张数学卡片，你伸出的手指数和老<tspan x="1859" dy="14.4">师的数字合起来是10。如我出2，我出8，2和</tspan><tspan x="1859" dy="14.4">8组成10。</tspan></text></g>
<g id="e-3"><text x="1663" y="3856">三、巩固练习</text></g>
<g id="e-3a"><text x="1763" y="3794">(1) 连线</text></g>
<g id="e-3b"><text x="1763" y="3844">(2) 摘苹果</text></g>
<g id="e-3c"><text x="1763" y="3918">(3) 猜电话号码</text></g>
<g id="e-3c1"><text x="1869" y="3893">四 课堂小结</text></g>
<g id="e-3c2"><text x="1869" y="3943">这节课你学会了什么?</text></g>

<!-- 相关文章 -->
<g id="rel"><rect class="n1" x="1398" y="4194" width="239" height="52" rx="5"/><text class="bx" x="1405" y="4215.8">新北师大版二年级数学案范文相关<tspan x="1405" dy="18.5">文章：</tspan></text></g>
<g id="rel1"><text x="1663" y="3993">★ 新北师大版二年级数学上册教案2021范文</text></g>
<g id="rel2"><text x="1663" y="4042.8">★ 新北师大版小学数学二年级上册教案最新<tspan x="1663" dy="14.4">范文</tspan></text></g>
<g id="rel3"><text x="1663" y="4107">★ 北师大小学二年级数学教案最新范文</text></g>
<g id="rel4"><text x="1663" y="4156">★ 北师大二年级数学上册教案最新范文</text></g>
<g id="rel5"><text x="1663" y="4206">★ 北师大小学二年级数学上册教案2021范文</text></g>
<g id="rel6"><text x="1663" y="4256">★ 北师版小学数学二年级上册教案最新范文</text></g>
<g id="rel7"><text x="1663" y="4305">★ 北师大数学二年级上册教案2021范文</text></g>
<g id="rel8"><text x="1663" y="4355">★ 北师大版数学二年级教案最新文案</text></g>
<g id="rel9"><text x="1663" y="4405">★ 2021二年级数学上册北师大版例文教案</text></g>
<g id="rel10"><text x="1663" y="4455">★ 最新北师大二年级数学教案模板</text></g>

<g id="watermark">
<text class="wm" transform="translate(648 517) rotate(-30)" y="38">树图 shutu.cn</text>
<text class="wm" transform="translate(1930 517) rotate(-30)" y="38">树图 shutu.cn</text>
<text class="wm" transform="translate(648 1519) rotate(-30)" y="38">树图 shutu.cn</text>
<text class="wm" transform="translate(1930 1519) rotate(-30)" y="38">树图 shutu.cn</text>
<text class="wm" transform="translate(648 2522) rotate(-30)" y="38">树图 shutu.cn</text>
<text class="wm" transform="translate(1930 2522) rotate(-30)" y="38">树图 shutu.cn</text>
<text class="wm" transform="translate(648 3524) rotate(-30)" y="38">树图 shutu.cn</text>
<text class="wm" transform="translate(1930 3524) rotate(-30)" y="38">树图 shutu.cn</text>
<text class="wm" transform="translate(648 4527) rotate(-30)" y="38">树图 shutu.cn</text>
<text class="wm" transform="translate(1930 4527) rotate(-30)" y="38">树图 shutu.cn</text>
<text class="wm" transform="translate(648 5529) rotate(-30)" y="38">树图 shutu.cn</text>
<text class="wm" transform="translate(1930 5529) rotate(-30)" y="38">树图 shutu.cn</text>
</g>
</g>
</svg>
